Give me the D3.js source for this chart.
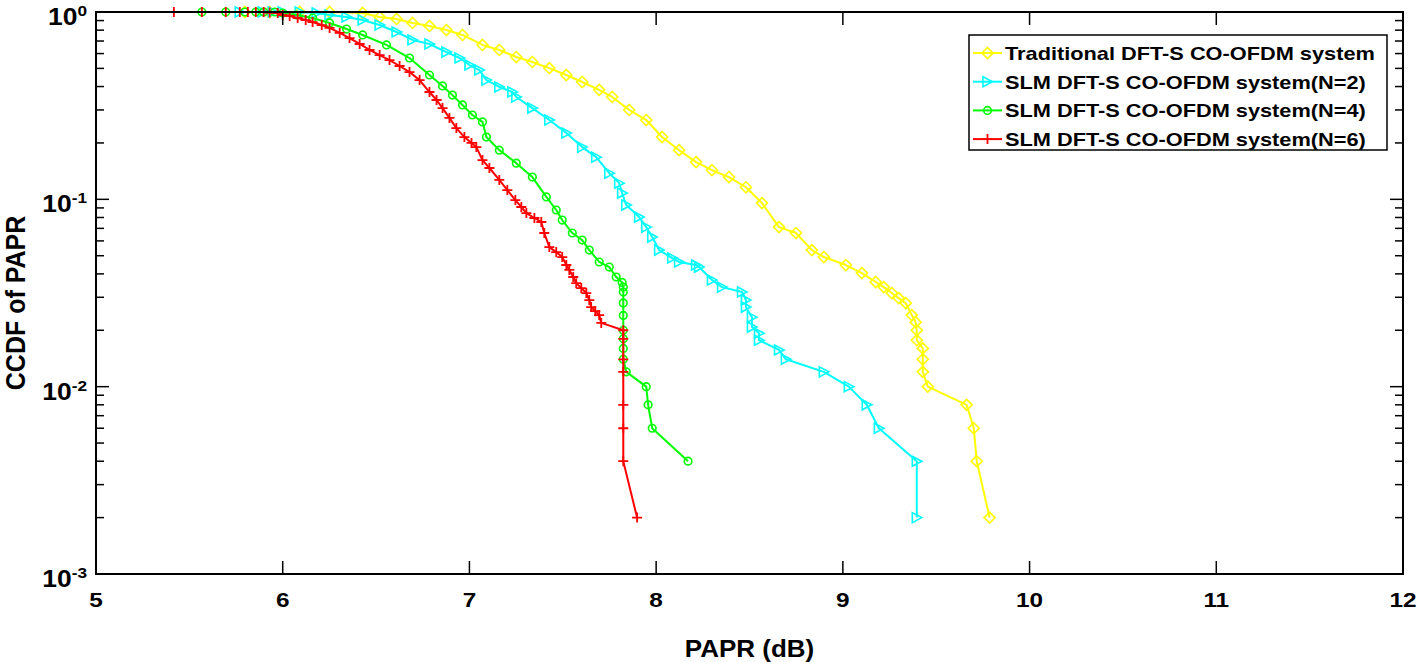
<!DOCTYPE html>
<html>
<head>
<meta charset="utf-8">
<script src="https://cdn.jsdelivr.net/npm/d3@7/dist/d3.min.js"></script>
<style>
  html, body { margin: 0; padding: 0; background: #fff; }
  svg { display: block; }
  text { font-family: "Liberation Sans", Arial, sans-serif; font-weight: bold; fill: #000; }
</style>
</head>
<body>
<svg id="chart" width="1417" height="662"></svg>
<script>
// ---------- data (PAPR dB, CCDF) ----------
const xTickValues = [5, 6, 7, 8, 9, 10, 11, 12];
const yTickExponents = [0, -1, -2, -3];
const seriesNames = [
  "Traditional DFT-S CO-OFDM system",
  "SLM DFT-S CO-OFDM system(N=2)",
  "SLM DFT-S CO-OFDM system(N=4)",
  "SLM DFT-S CO-OFDM system(N=6)"
];

const traditional = [
  [5.797,1],[5.930,1],[6.091,1],[6.251,1],[6.428,0.988],[6.519,0.940],[6.610,0.918],
  [6.695,0.874],[6.786,0.842],[6.877,0.801],[6.963,0.754],[7.070,0.667],[7.160,0.627],
  [7.251,0.575],[7.337,0.541],[7.428,0.502],[7.519,0.461],[7.604,0.423],[7.695,0.384],
  [7.765,0.352],[7.856,0.300],[7.947,0.265],[8.032,0.215],[8.123,0.183],[8.214,0.158],
  [8.299,0.143],[8.390,0.1315],[8.481,0.116],[8.567,0.0955],[8.658,0.0711],[8.749,0.0661],
  [8.834,0.0536],[8.898,0.0492],[9.016,0.0446],[9.102,0.0404],[9.176,0.0362],[9.219,0.034],
  [9.262,0.0316],[9.299,0.0297],[9.337,0.0279],[9.369,0.0241],[9.390,0.0221],[9.396,0.020],
  [9.396,0.0177],[9.428,0.016],[9.428,0.014],[9.428,0.012],[9.455,0.010],[9.663,0.008],
  [9.701,0.006],[9.717,0.004],[9.786,0.002]
];

const slmN2 = [
  [5.770,1],[5.893,1],[5.947,1],[6.000,1],[6.091,1],[6.182,0.988],[6.251,0.964],
  [6.342,0.940],[6.428,0.906],[6.519,0.852],[6.610,0.782],[6.695,0.709],[6.786,0.675],
  [6.877,0.611],[6.947,0.568],[7.000,0.521],[7.053,0.490],[7.091,0.433],[7.160,0.398],
  [7.230,0.374],[7.251,0.352],[7.337,0.307],[7.428,0.265],[7.519,0.226],[7.604,0.190],
  [7.679,0.168],[7.749,0.138],[7.802,0.122],[7.818,0.108],[7.840,0.0932],[7.909,0.0804],
  [7.947,0.0711],[7.979,0.0629],[8.016,0.0536],[8.086,0.0486],[8.123,0.0463],[8.214,0.0446],
  [8.230,0.0435],[8.299,0.0371],[8.353,0.034],[8.460,0.032],[8.481,0.029],[8.481,0.0266],
  [8.513,0.0235],[8.513,0.0208],[8.551,0.0193],[8.551,0.0177],[8.658,0.0157],[8.695,0.014],
  [8.898,0.012],[9.032,0.010],[9.128,0.008],[9.193,0.006],[9.396,0.004],[9.396,0.002]
];

const slmN4 = [
  [5.567,1],[5.695,1],[5.797,1],[5.856,1],[5.898,1],[5.957,1],[6.000,0.988],[6.075,0.964],
  [6.160,0.929],[6.251,0.874],[6.342,0.811],[6.428,0.754],[6.556,0.667],[6.679,0.568],
  [6.786,0.461],[6.856,0.403],[6.909,0.360],[6.963,0.319],[7.016,0.282],[7.070,0.259],
  [7.091,0.215],[7.160,0.183],[7.251,0.156],[7.337,0.1315],[7.412,0.103],[7.465,0.0877],
  [7.497,0.0775],[7.551,0.0661],[7.604,0.0606],[7.642,0.0536],[7.695,0.0463],[7.749,0.0435],
  [7.786,0.0385],[7.818,0.036],[7.824,0.034],[7.824,0.032],[7.824,0.028],[7.824,0.024],
  [7.824,0.020],[7.824,0.018],[7.824,0.016],[7.824,0.014],[7.840,0.012],[7.947,0.010],
  [7.957,0.008],[7.979,0.006],[8.171,0.004]
];

const slmN6 = [
  [5.417,1],[5.567,1],[5.695,1],[5.770,1],[5.813,1],[5.856,1],[5.898,1],[5.930,0.994],
  [5.973,0.988],[6.000,0.964],[6.037,0.952],[6.080,0.929],[6.123,0.906],[6.160,0.884],
  [6.209,0.852],[6.251,0.822],[6.305,0.773],[6.358,0.726],[6.412,0.675],[6.465,0.627],
  [6.519,0.589],[6.572,0.554],[6.626,0.515],[6.679,0.478],[6.733,0.433],[6.786,0.374],
  [6.824,0.339],[6.856,0.307],[6.893,0.272],[6.930,0.240],[6.973,0.215],[7.011,0.200],
  [7.037,0.190],[7.070,0.162],[7.107,0.147],[7.160,0.127],[7.203,0.112],[7.246,0.0991],
  [7.278,0.091],[7.305,0.0845],[7.348,0.0795],[7.385,0.0757],[7.401,0.0661],[7.428,0.0556],
  [7.465,0.0523],[7.497,0.0492],[7.519,0.0446],[7.535,0.042],[7.556,0.0385],[7.572,0.0357],
  [7.599,0.0336],[7.626,0.0316],[7.642,0.029],[7.652,0.0266],[7.674,0.0253],[7.695,0.0241],
  [7.706,0.0219],[7.824,0.020],[7.824,0.018],[7.824,0.014],[7.824,0.012],[7.824,0.008],
  [7.824,0.006],[7.824,0.004],[7.898,0.002]
];

// ---------- layout ----------
const svg = d3.select("#chart");
const L = 96, R = 1403, T = 12, B = 574;
const SX = 1.16; // horizontal stretch of the original raster text

const x = d3.scaleLinear().domain([5, 12]).range([L, R]);
const y = d3.scaleLog().domain([1e-3, 1]).range([B, T]);

const series = [
  { name: seriesNames[0], data: traditional, color: "#ffff00", marker: "diamond" },
  { name: seriesNames[1], data: slmN2, color: "#00ffff", marker: "triangle" },
  { name: seriesNames[2], data: slmN4, color: "#00ff00", marker: "circle" },
  { name: seriesNames[3], data: slmN6, color: "#ff0000", marker: "plus" }
];

function markerPath(type) {
  if (type === "diamond") return "M0,-5.5L5.5,0L0,5.5L-5.5,0Z";
  if (type === "triangle") return "M-4.5,-5L5,0L-4.5,5Z";
  if (type === "plus") return "M-5,0H5M0,-5V5";
  return null;
}

function drawMarker(g, type, color) {
  if (type === "circle") {
    g.append("circle").attr("r", 3.8).attr("fill", "none")
      .attr("stroke", color).attr("stroke-width", 1.6);
  } else {
    g.append("path").attr("d", markerPath(type)).attr("fill", "none")
      .attr("stroke", color).attr("stroke-width", type === "plus" ? 1.8 : 1.6);
  }
}

function stretchedText(parent, px, py, str, size, anchor, sx) {
  return parent.append("text")
    .attr("transform", `translate(${px},${py}) scale(${sx || SX},1)`)
    .attr("text-anchor", anchor).attr("font-size", size).text(str);
}

const plot = svg.append("g");
svg.append("clipPath").attr("id", "clip")
  .append("rect").attr("x", L - 8).attr("y", T - 8).attr("width", R - L + 16).attr("height", B - T + 16);

const line = d3.line().x(d => x(d[0])).y(d => y(d[1]));

series.forEach(s => {
  const g = plot.append("g").attr("clip-path", "url(#clip)");
  g.append("path").datum(s.data).attr("d", line)
    .attr("fill", "none").attr("stroke", s.color).attr("stroke-width", 2)
    .attr("stroke-linejoin", "round");
  g.selectAll("g.m").data(s.data).enter().append("g").attr("class", "m")
    .attr("transform", d => `translate(${x(d[0])},${y(d[1])})`)
    .each(function () { drawMarker(d3.select(this), s.marker, s.color); });
});

// ---------- axes box & ticks ----------
const ax = svg.append("g").attr("stroke", "#000").attr("fill", "none");
ax.append("rect").attr("x", L).attr("y", T).attr("width", R - L).attr("height", B - T)
  .attr("stroke-width", 2);

const majorLen = 13, minorLen = 8;
xTickValues.forEach(v => {
  const px = x(v);
  ax.append("line").attr("x1", px).attr("x2", px).attr("y1", B).attr("y2", B - majorLen).attr("stroke-width", 1.5);
  ax.append("line").attr("x1", px).attr("x2", px).attr("y1", T).attr("y2", T + majorLen).attr("stroke-width", 1.5);
});

const minorVals = [];
for (let e = -3; e < 0; e++) {
  for (let m = 2; m <= 9; m++) minorVals.push(m * Math.pow(10, e));
}
minorVals.forEach(v => {
  const py = y(v);
  ax.append("line").attr("x1", L).attr("x2", L + minorLen).attr("y1", py).attr("y2", py).attr("stroke-width", 1.5);
  ax.append("line").attr("x1", R).attr("x2", R - minorLen).attr("y1", py).attr("y2", py).attr("stroke-width", 1.5);
});
yTickExponents.forEach(e => {
  const py = y(Math.pow(10, e));
  ax.append("line").attr("x1", L).attr("x2", L + majorLen).attr("y1", py).attr("y2", py).attr("stroke-width", 1.5);
  ax.append("line").attr("x1", R).attr("x2", R - majorLen).attr("y1", py).attr("y2", py).attr("stroke-width", 1.5);
});

// tick labels
const xl = svg.append("g");
xTickValues.forEach(v => {
  stretchedText(xl, x(v), 607, String(v), 21, "middle");
});

const yl = svg.append("g");
yTickExponents.forEach(e => {
  const py = y(Math.pow(10, e));
  const expStr = e === 0 ? "0" : "-" + Math.abs(e);
  const supW = e === 0 ? 9.6 : 15.3;
  stretchedText(yl, 87 - supW, py + 13, "10", 23, "end", 1.15);
  stretchedText(yl, 87 - supW, py + 4, expStr, 15, "start", 1.15);
});

// axis titles
stretchedText(svg, (L + R) / 2, 657, "PAPR (dB)", 23, "middle", 1.13);
svg.append("text").attr("transform", `translate(25,${(T + B) / 2 + 10}) rotate(-90) scale(1,1.1)`)
  .attr("text-anchor", "middle").attr("font-size", 25).text("CCDF of PAPR");

// ---------- legend ----------
const lg = svg.append("g");
lg.append("rect").attr("x", 969).attr("y", 35).attr("width", 418).attr("height", 115)
  .attr("fill", "#fff").attr("stroke", "#000").attr("stroke-width", 1.5);
series.forEach((s, i) => {
  const cy = 53 + i * 28.7;
  lg.append("line").attr("x1", 973).attr("x2", 1002).attr("y1", cy).attr("y2", cy)
    .attr("stroke", s.color).attr("stroke-width", 2);
  const mg = lg.append("g").attr("transform", `translate(987.5,${cy})`);
  drawMarker(mg, s.marker, s.color);
  stretchedText(lg, 1005, cy + 7, s.name, 18.6, "start", 1.17);
});
</script>
</body>
</html>
